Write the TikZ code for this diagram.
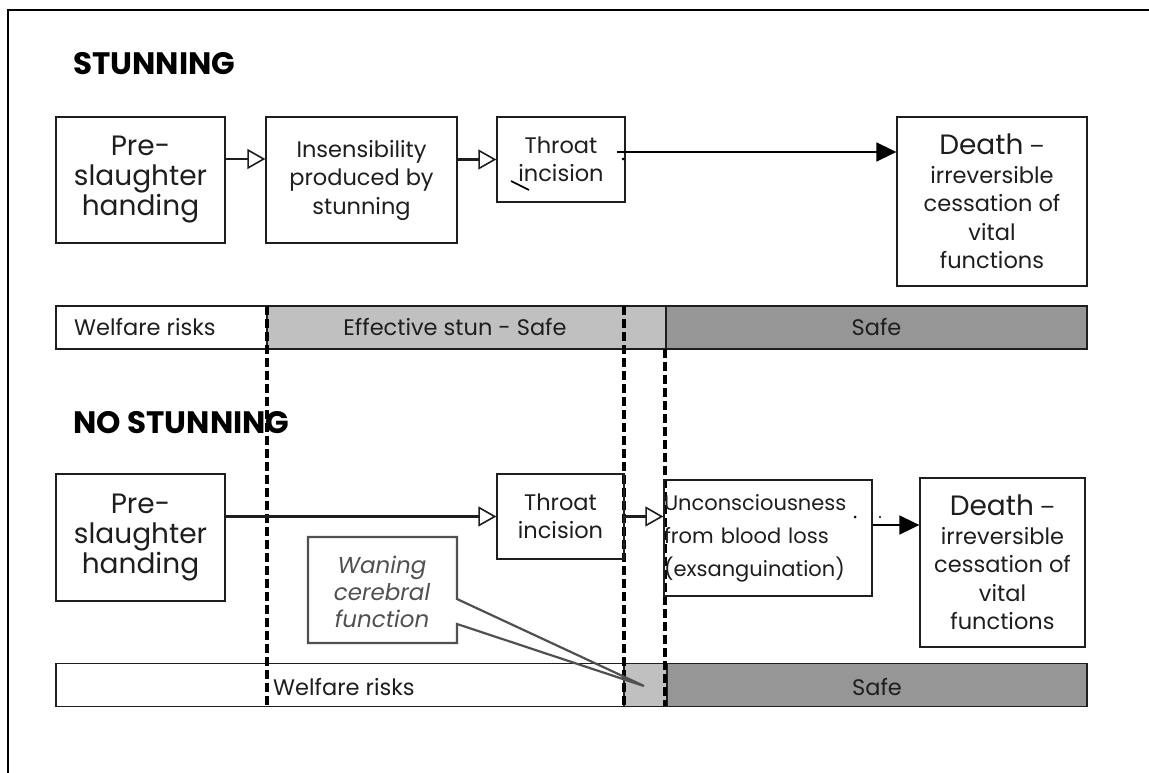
\documentclass[tikz,border=0pt]{standalone}
\usepackage{fontspec}
\setmainfont{Poppins}
\usetikzlibrary{arrows.meta}
\definecolor{lightband}{HTML}{C0C0C0}
\definecolor{darkband}{HTML}{969696}
\definecolor{ink}{HTML}{1E1E1E}
\definecolor{callgray}{HTML}{505050}
\newcommand\bodyfs{\fontsize{22.5}{28.5}\selectfont}
\newcommand\bigfs{\fontsize{28}{30}\selectfont}
\newcommand\headfs{\fontsize{31}{34}\selectfont}
\newcommand\calloutfs{\fontsize{23}{27}\selectfont}
\newcommand\uncfs{\fontsize{21}{33}\selectfont}
\begin{document}
\begin{tikzpicture}[x=1pt,y=-1pt,
  box/.style={draw=ink, line width=1.3pt, align=center, inner sep=0pt, text=ink, font=\bodyfs},
  cell/.style={draw=ink, line width=1.2pt, inner sep=0pt, minimum height=43pt},
  bandtext/.style={text=ink, font=\bodyfs, inner sep=0pt},
  divider/.style={line width=3.4pt, dash pattern=on 9pt off 4pt, draw=black},
  openarrow/.style={line width=2.4pt, draw=ink, -{Triangle[open, length=18pt, width=20pt, line width=1.6pt]}},
  fullarrow/.style={line width=1.8pt, draw=black, -{Triangle[length=20pt, width=19pt]}},
  heading/.style={font=\headfs\bfseries, text=black, anchor=base west, inner sep=0pt},
  speck/.style={fill=black},
]
\useasboundingbox (0,0) rectangle (1149,773);
% frame
\draw[line width=2pt, black] (8,773) -- (8,10) -- (1149,10);

% headings
\node[heading] (h1) at (73,75) {STUNNING};
\node[heading] (h2) at (73,433) {NO STUNNING};

% top band
\node[cell, fill=white, minimum width=211pt] (t1) at (161.5,327.5) {};
\node[cell, fill=lightband, minimum width=399pt] (t2) at (466.5,327.5) {};
\node[cell, fill=darkband, minimum width=421pt] (t3) at (876.5,327.5) {};
\node[bandtext, anchor=west] (t1l) at (74,327.5) {Welfare risks};
\node[bandtext] (t2l) at (455,327.5) {Effective stun - Safe};
\node[bandtext] (t3l) at (876.5,327.5) {Safe};

% bottom band
\node[cell, fill=white, minimum width=568pt] (u1) at (340,685) {};
\node[cell, fill=lightband, minimum width=43pt] (u2) at (645.5,685) {};
\node[cell, fill=darkband, minimum width=420pt] (u3) at (877,685) {};
\node[bandtext, anchor=west] (u1l) at (273,687) {Welfare risks};
\node[bandtext] (u3l) at (877,687) {Safe};

% dividers
\draw[divider] (267,306) -- (267,706);
\draw[divider] (624,306) -- (624,706);
\draw[divider] (665,349) -- (665,706);

% top row boxes
\node[box, font=\bigfs, minimum width=169pt, minimum height=126pt] (pre1) at (140.5,180) {Pre-\\slaughter\\handing};
\node[box, minimum width=191pt, minimum height=126pt] (ins) at (361.5,180) {Insensibility\\produced by\\stunning};
\node[box, minimum width=128pt, minimum height=85pt] (thr1) at (561,159.5) {Throat\\incision};
\node[box, minimum width=190pt, minimum height=169pt] (dth1) at (992,201.5) {{\bigfs Death} –\\irreversible\\cessation of\\vital\\functions};

% bottom row boxes
\node[box, font=\bigfs, minimum width=169pt, minimum height=127pt] (pre2) at (140.5,537.5) {Pre-\\slaughter\\handing};
\node[box, minimum width=127pt, minimum height=85pt] (thr2) at (560.5,516.5) {Throat\\incision};
\node[box, font=\uncfs, align=left, text width=208pt, minimum height=116pt] (unc) at (768,538) {Unconsciousness\\from blood loss\\(exsanguination)};
\node[box, minimum width=165pt, minimum height=169pt] (dth2) at (1002.5,562.5) {{\bigfs Death} –\\irreversible\\cessation of\\vital\\functions};

% top connectors
\draw[openarrow] ([yshift=21pt]pre1.east) -- ([yshift=21pt]ins.west);
\draw[openarrow] (ins.east |- thr1.west) -- (thr1.west);
\coordinate (throut) at ([xshift=-9pt,yshift=7.5pt]thr1.east);
\draw[fullarrow] (throut) -- (dth1.west |- throut);

% bottom connectors
\draw[openarrow] (pre2.east |- thr2.west) -- (thr2.west);
\draw[openarrow] (thr2.east) -- (unc.west |- thr2.east);
\coordinate (uncout) at ([yshift=13pt]unc.east);
\draw[fullarrow] (uncout) -- (dth2.west |- uncout);

% callout
\draw[callgray, line width=2.2pt, line join=miter] (308,537) -- (457,537) -- (457,599) -- (644,686) -- (457,624) -- (457,643) -- (308,643) -- cycle;
\node[text=callgray, font=\calloutfs\itshape, align=center, inner sep=0pt] (waning) at (382,592) {Waning\\cerebral\\function};

% stray marks
\draw[line width=1.6pt] (511,181) -- (529,190);
\fill[speck] (623,159) circle (1.5pt);
\fill[speck] (855,517) circle (1.5pt);
\fill[speck] (880,517) circle (1.2pt);
\end{tikzpicture}
\end{document}
